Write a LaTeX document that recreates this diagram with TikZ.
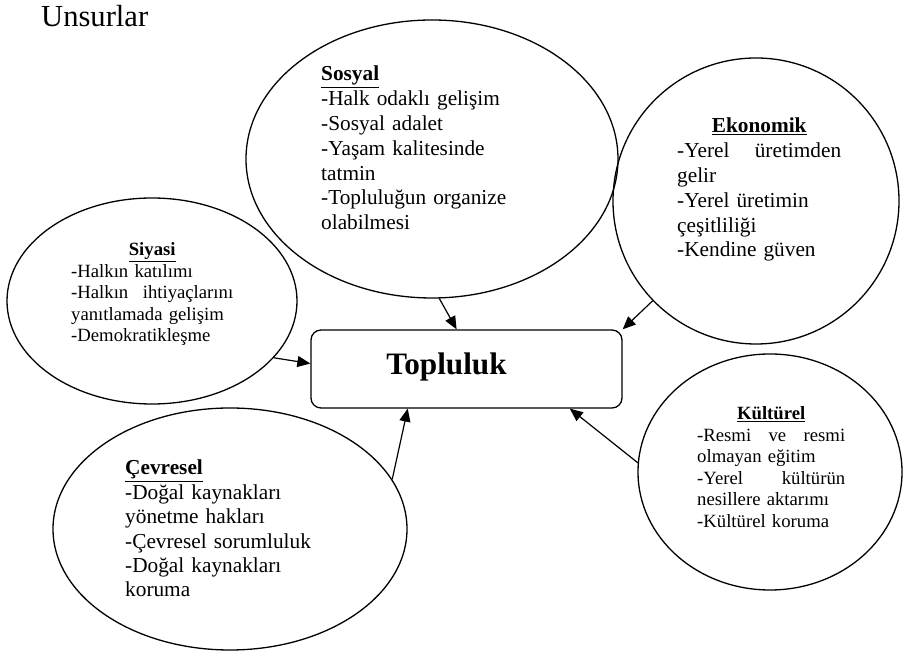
\documentclass[tikz,border=0pt]{standalone}
\usepackage{fontspec}
\setmainfont{Liberation Serif}
\usetikzlibrary{shapes.geometric,arrows.meta}

\begin{document}
\begin{tikzpicture}[x=1pt,y=1pt,
  unsur/.style={draw,ellipse,line width=1.3pt,inner sep=0pt},
  kutu/.style={draw,rectangle,rounded corners=10pt,line width=1.3pt,minimum width=311pt,minimum height=78pt},
  yazi/.style={anchor=base west,inner sep=0pt,align=left},
  buyuk/.style={font=\fontsize{21.3}{24.8}\selectfont},
  kucuk/.style={font=\fontsize{18.7}{21.5}\selectfont},
  ok/.style={->,>={Triangle[length=13pt,width=11pt]},line width=1.2pt}]
\useasboundingbox (0,0) rectangle (903,653);
% Title
\node[anchor=base west,inner sep=0pt,font=\fontsize{30.6}{36}\selectfont] (baslik) at (41,626) {Unsurlar};
% Center box
\node[kutu] (topluluk) at (466.5,284) {};
\node[anchor=base,inner sep=0pt,font=\fontsize{31.2}{36}\selectfont\bfseries] (toplulukyazi) at (446.5,278) {Topluluk};
% Ellipses
\node[unsur,minimum width=372pt,minimum height=278pt] (sosyal) at (432,494) {};
\node[unsur,minimum width=286pt,minimum height=286pt] (ekonomik) at (756,452) {};
\node[unsur,minimum width=290pt,minimum height=206pt] (siyasi) at (152,352) {};
\node[unsur,minimum width=354pt,minimum height=242pt] (cevresel) at (230,124) {};
\node[unsur,minimum width=264pt,minimum height=236pt] (kulturel) at (770,181) {};
% Texts in the ellipses
\node[yazi,buyuk,text width=210pt] (sosyalyazi) at (321,572) {\underline{\textbf{Sosyal}}\\
  -Halk odaklı gelişim\\
  -Sosyal adalet\\
  -Yaşam kalitesinde\\
  tatmin\\
  -Topluluğun organize\\
  olabilmesi};
\node[yazi,buyuk,text width=164pt] (ekonomikyazi) at (677,520) {\hfill\underline{\textbf{Ekonomik}}\hfill\null\\
  -Yerel\hfill üretimden\\
  gelir\\
  -Yerel üretimin\\
  çeşitliliği\\
  -Kendine güven};
\node[yazi,kucuk,text width=162pt] (siyasiyazi) at (71,397) {\hfill\underline{\textbf{Siyasi}}\hfill\null\\
  -Halkın katılımı\\
  -Halkın\hfill ihtiyaçlarını\\
  yanıtlamada gelişim\\
  -Demokratikleşme};
\node[yazi,font=\fontsize{21.3}{24.4}\selectfont,text width=210pt] (cevreselyazi) at (125,178) {\underline{\textbf{Çevresel}}\\
  -Doğal kaynakları\\
  yönetme hakları\\
  -Çevresel sorumluluk\\
  -Doğal kaynakları\\
  koruma};
\node[yazi,kucuk,text width=148pt] (kulturelyazi) at (697,233) {\hfill\underline{\textbf{Kültürel}}\hfill\null\\
  -Resmi\hfill ve\hfill resmi\\
  olmayan eğitim\\
  -Yerel\hfill kültürün\\
  nesillere aktarımı\\
  -Kültürel koruma};
% Arrows
\draw[ok] (sosyal.-87) -- (topluluk.104);
\draw[ok] (ekonomik.-136) -- (topluluk.north east);
\draw[ok] (siyasi.-25) -- (topluluk.178);
\draw[ok] (cevresel.17) -- (topluluk.-146);
\draw[ok] (kulturel.176) -- (topluluk.-21);
\end{tikzpicture}
\end{document}
